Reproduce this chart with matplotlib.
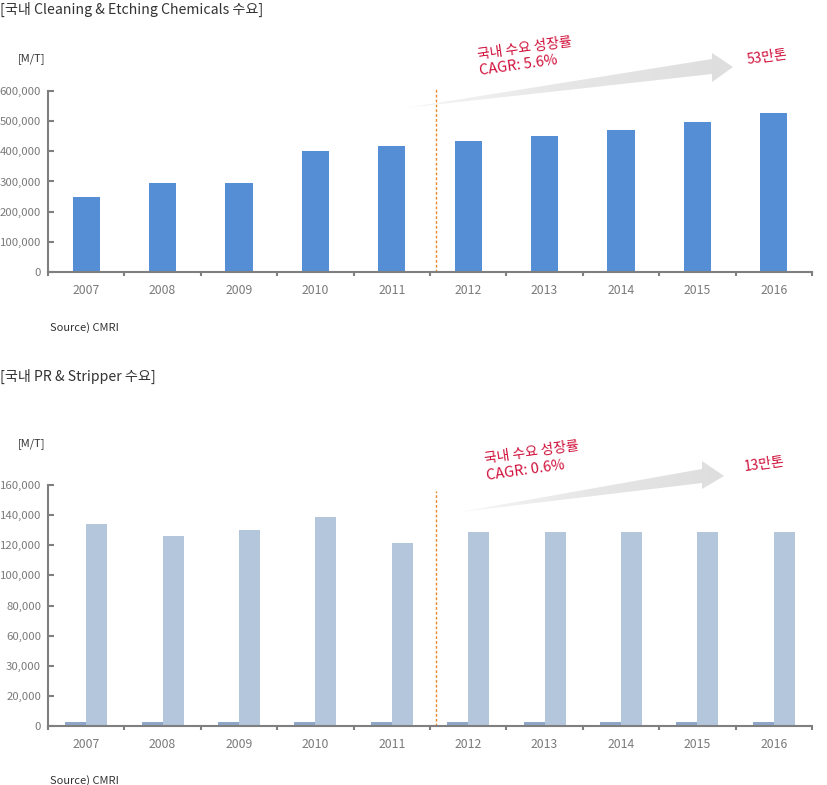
import numpy as np
import matplotlib
matplotlib.use('Agg')
import matplotlib.pyplot as plt
from matplotlib.patches import Polygon
from matplotlib.ticker import FixedLocator

plt.rcParams['font.family'] = ['Noto Sans CJK KR', 'DejaVu Sans']

# data
years = ['2007', '2008', '2009', '2010', '2011', '2012', '2013', '2014', '2015', '2016']
cleaning = [248000, 295000, 295000, 401000, 418000, 434000, 451000, 471000, 498000, 527000]
pr_small = [2500, 2500, 2500, 2500, 2500, 2500, 2500, 2500, 2500, 2500]
pr_main = [134000, 126000, 130000, 138800, 121700, 128800, 128800, 128800, 128800, 128800]
top_ticks = [0, 100000, 200000, 300000, 400000, 500000, 600000]
bot_ticks = [0, 20000, 40000, 60000, 80000, 100000, 120000, 140000, 160000]
bot_labels = ['0', '20,000', '30,000', '60,000', '80,000', '100,000', '120,000', '140,000', '160,000']

W, H = 828, 785
fig = plt.figure(figsize=(W / 100, H / 100), dpi=100)

AX = '#7f7f7f'
TXT = '#333333'
RED = '#d0103a'


def style_axis(ax, ticks, labels):
    ax.set_xlim(-0.5, len(years) - 0.5)
    ax.set_ylim(ticks[0], ticks[-1])
    for s in ['top', 'right']:
        ax.spines[s].set_visible(False)
    for s in ['left', 'bottom']:
        ax.spines[s].set_color(AX)
        ax.spines[s].set_linewidth(1.5)
    ax.set_yticks(ticks)
    ax.set_yticklabels(labels)
    ax.tick_params(axis='y', direction='in', length=4, width=1.5, color=AX,
                   labelsize=8.2, labelcolor='#7a7a7a', pad=5)
    ax.set_xticks(np.arange(len(years)))
    ax.set_xticklabels(years)
    ax.tick_params(axis='x', which='major', length=0, labelsize=8.8,
                   labelcolor='#7a7a7a', pad=9)
    ax.xaxis.set_minor_locator(FixedLocator(np.arange(len(years) + 1) - 0.5))
    ax.tick_params(axis='x', which='minor', direction='out', length=3,
                   width=1.5, color=AX)


x = np.arange(len(years))

# top chart
ax1 = fig.add_axes([48 / W, 1 - 272 / H, 764 / W, 181 / H])
ax1.bar(x, cleaning, width=0.355, color='#558ed5')
style_axis(ax1, top_ticks, [f'{t:,}' for t in top_ticks])
ax1.axvline(4.58, color='#e8892a', lw=1, ls=(0, (2, 1.5)), ymax=1.01, clip_on=False)

# bottom chart
ax2 = fig.add_axes([48 / W, 1 - 726 / H, 764 / W, 241 / H])
ax2.bar(x - 0.1375, pr_small, width=0.275, color='#8ea6c8')
ax2.bar(x + 0.1375, pr_main, width=0.275, color='#b4c6dc')
style_axis(ax2, bot_ticks, bot_labels)
ax2.axvline(4.58, ymax=0.975, color='#e8892a', lw=1, ls=(0, (2, 1.5)))

# overlay in pixel coordinates for labels and arrows
ov = fig.add_axes([0, 0, 1, 1], zorder=10)
ov.patch.set_alpha(0)
ov.axis('off')


def arrow(tail, shaft_x, shaft_top, shaft_bot, head_top, head_bot, tip):
    pts = [tail, (shaft_x, shaft_top), (shaft_x, head_top), tip,
           (shaft_x, head_bot), (shaft_x, shaft_bot)]
    poly = Polygon(pts, closed=True, facecolor='none', edgecolor='none')
    ov.add_patch(poly)
    grad = np.linspace(0, 1, 256).reshape(1, -1)
    cmap = matplotlib.colors.LinearSegmentedColormap.from_list('g', ['#f6f6f6', '#e6e6e6', '#dedede'])
    im = ov.imshow(grad, cmap=cmap, aspect='auto',
                   extent=[tail[0], tip[0], tail[1] + 3, head_top - 3], zorder=0)
    im.set_clip_path(poly)


arrow((405, 108), 712, 59, 74, 53, 82, (733, 67))
arrow((460, 512), 702, 469, 483, 461, 489, (724, 476))
ov.set_xlim(0, W)
ov.set_ylim(H, 0)

ov.text(0, 14, '[국내 Cleaning & Etching Chemicals 수요]', fontsize=10.2, color=TXT, va='baseline')
ov.text(18, 61, '[M/T]', fontsize=8, color=TXT, va='baseline')
ov.text(50, 331, 'Source) CMRI', fontsize=8, color=TXT, va='baseline')
ov.text(0, 381, '[국내 PR & Stripper 수요]', fontsize=10.2, color=TXT, va='baseline')
ov.text(18, 446, '[M/T]', fontsize=8, color=TXT, va='baseline')
ov.text(50, 784, 'Source) CMRI', fontsize=8, color=TXT, va='baseline')

kw = dict(fontsize=10, color=RED, rotation=8, rotation_mode='anchor', ha='left', va='baseline')
ov.text(478, 59, '국내 수요 성장률', **kw)
ov.text(480, 75, 'CAGR: 5.6%', fontsize=10.5, color=RED, rotation=8,
        rotation_mode='anchor', ha='left', va='baseline')
ov.text(747, 64, '53만톤', **kw)
ov.text(485, 463, '국내 수요 성장률', **kw)
ov.text(487, 480, 'CAGR: 0.6%', fontsize=10.5, color=RED, rotation=8,
        rotation_mode='anchor', ha='left', va='baseline')
ov.text(745, 471, '13만톤', **kw)

fig.savefig('out.png', dpi=100)
